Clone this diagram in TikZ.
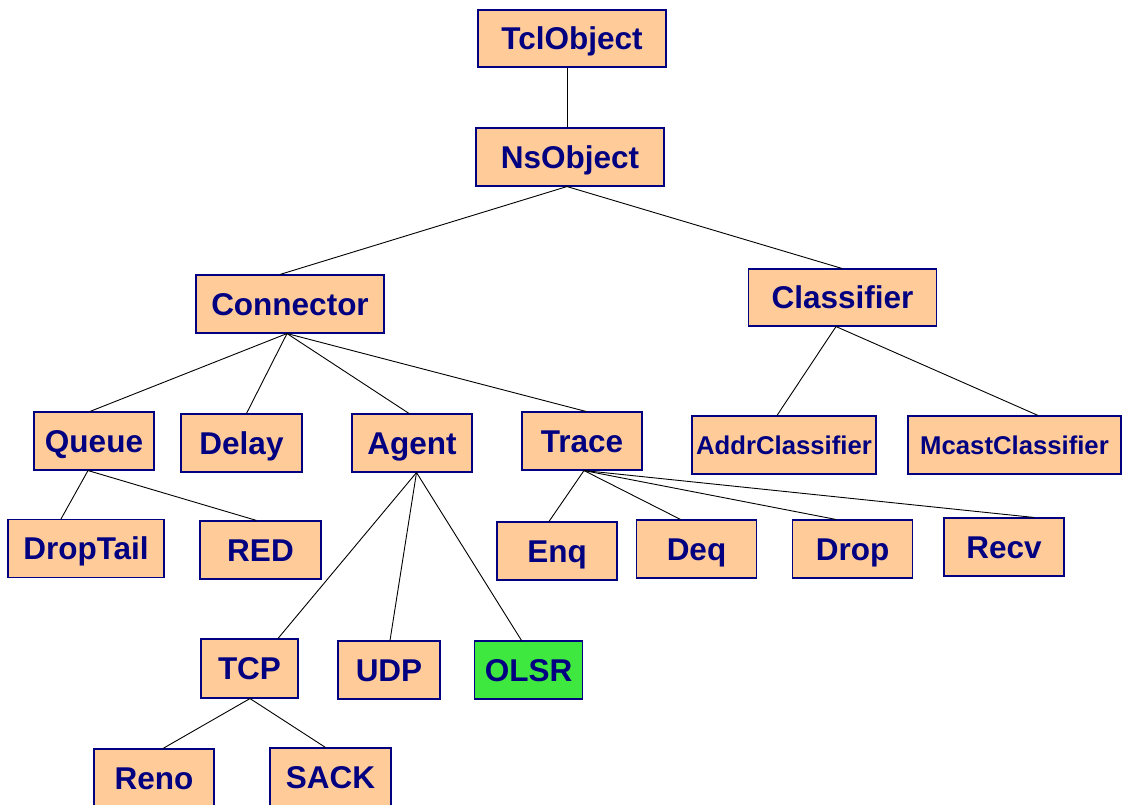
\documentclass[tikz,border=0pt]{standalone}
\usepackage{fontspec}
\setmainfont{Liberation Sans}
\definecolor{boxfill}{HTML}{FFCC99}
\definecolor{boxline}{HTML}{000080}
\definecolor{boxtext}{HTML}{000080}
\definecolor{greenfill}{HTML}{3FE83F}
\tikzset{
  cls/.style={draw=boxline, line width=1.1pt, fill=boxfill, text=boxtext,
    font=\fontsize{31.5}{36}\selectfont\bfseries, inner sep=0pt,
    text height=22.6pt, text depth=0pt, minimum height=58pt},
  smallcls/.style={cls, font=\fontsize{25.7}{30}\selectfont\bfseries, text height=18.4pt},
  link/.style={draw=black, line width=0.9pt}
}
\begin{document}
\begin{tikzpicture}[x=1pt, y=-1pt]
\useasboundingbox (0,0) rectangle (1122,805);
\clip (0,0) rectangle (1122,805);
\fill[white] (0,0) rectangle (1122,805);

% class boxes
\node[cls, minimum width=188pt, minimum height=57pt] (tcl) at (572,38.5) {TclObject};
\node[cls, minimum width=188pt] (ns) at (570,157) {NsObject};
\node[cls, minimum width=188pt] (conn) at (290,304) {Connector};
\node[cls, minimum width=188pt, minimum height=57pt] (clsf) at (842.5,297.5) {Classifier};
\node[cls, minimum width=120pt] (queue) at (94,441) {Queue};
\node[cls, minimum width=121pt] (delay) at (241.5,443) {Delay};
\node[cls, minimum width=120pt] (agent) at (412,443) {Agent};
\node[cls, minimum width=120pt] (trace) at (582,441) {Trace};
\node[smallcls, minimum width=184pt] (addr) at (784,445) {AddrClassifier};
\node[smallcls, minimum width=213pt] (mcast) at (1014.5,445) {McastClassifier};
\node[cls, minimum width=156pt] (droptail) at (86,548.5) {DropTail};
\node[cls, minimum width=121pt] (red) at (260.5,550) {RED};
\node[cls, minimum width=120pt] (enq) at (557,551) {Enq};
\node[cls, minimum width=120pt] (deq) at (696.5,549) {Deq};
\node[cls, minimum width=120pt] (drop) at (852.5,549) {Drop};
\node[cls, minimum width=120pt] (recv) at (1004,547) {Recv};
\node[cls, minimum width=97pt, minimum height=59pt] (tcp) at (249.5,668.5) {TCP};
\node[cls, minimum width=102pt] (udp) at (389,670) {UDP};
\node[cls, minimum width=108pt, fill=greenfill] (olsr) at (528.5,670) {OLSR};
\node[cls, minimum width=120pt] (reno) at (154,778) {Reno};
\node[cls, minimum width=121pt] (sack) at (330.5,777) {SACK};

% inheritance links
\draw[link] ([xshift=-5pt]tcl.south) -- ([xshift=-3pt]ns.north);
\draw[link] ([xshift=-3pt]ns.south) -- ([xshift=-10pt]conn.north);
\draw[link] ([xshift=-3pt]ns.south) -- ([xshift=-0.5pt]clsf.north);

\draw[link] ([xshift=-3pt]conn.south) -- ([xshift=-4pt]queue.north);
\draw[link] ([xshift=-3pt]conn.south) -- ([xshift=5pt]delay.north);
\draw[link] ([xshift=-3pt]conn.south) -- ([xshift=-3pt]agent.north);
\draw[link] ([xshift=-3pt]conn.south) -- ([xshift=4pt]trace.north);

\draw[link] ([xshift=-6.5pt]clsf.south) -- ([xshift=-7pt]addr.north);
\draw[link] ([xshift=-6.5pt]clsf.south) -- ([xshift=23.5pt]mcast.north);

\draw[link] ([xshift=-6pt]queue.south) -- ([xshift=-25pt]droptail.north);
\draw[link] ([xshift=-6pt]queue.south) -- ([xshift=-4pt]red.north);

\draw[link] ([xshift=4.5pt]agent.south) -- ([xshift=28.5pt]tcp.north);
\draw[link] ([xshift=4.5pt]agent.south) -- ([xshift=1pt]udp.north);
\draw[link] ([xshift=4.5pt]agent.south) -- ([xshift=-7pt]olsr.north);

\draw[link] ([xshift=2pt]trace.south) -- ([xshift=-8pt]enq.north);
\draw[link] ([xshift=2pt]trace.south) -- ([xshift=-16pt]deq.north);
\draw[link] ([xshift=2pt]trace.south) -- ([xshift=-16.5pt]drop.north);
\draw[link] ([xshift=2pt]trace.south) -- ([xshift=30pt]recv.north);

\draw[link] ([xshift=0.5pt]tcp.south) -- ([xshift=9pt]reno.north);
\draw[link] ([xshift=0.5pt]tcp.south) -- ([xshift=-5pt]sack.north);
\end{tikzpicture}
\end{document}
